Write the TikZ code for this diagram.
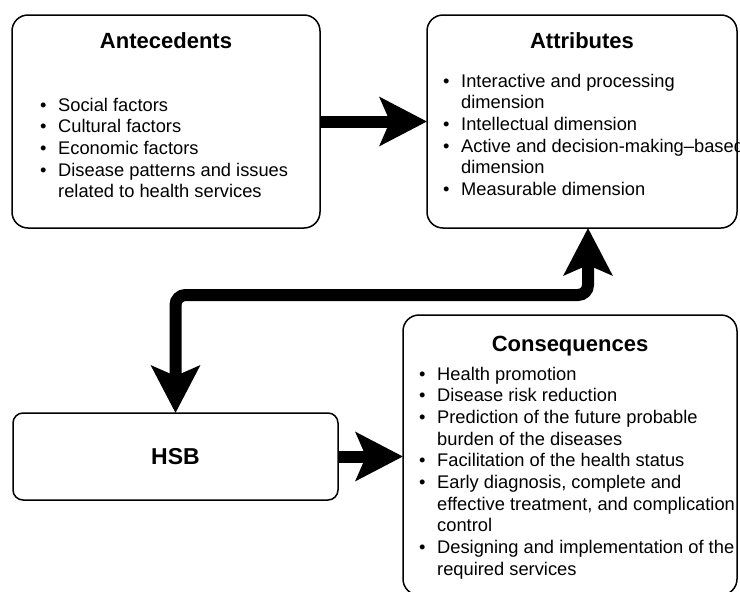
\documentclass[tikz,border=0pt]{standalone}
\usepackage{fontspec}
\setmainfont{Liberation Sans}
\usetikzlibrary{positioning, arrows.meta}

\newcommand{\bitem}[1]{\hbox{\makebox[18pt][l]{•}#1}}
\newcommand{\bcont}[1]{\hbox{\hspace*{18pt}#1}}
\newcommand{\blist}[1]{\vtop{\baselineskip=21.7pt #1}}

\tikzset{bigtip/.tip={Stealth[length=47pt, width=48pt, inset=10pt]}}

\begin{document}
\begin{tikzpicture}[x=1pt, y=-1pt,
    box/.style={draw, line width=1.5pt, rounded corners=16pt, inner sep=0pt, outer sep=0pt},
    title/.style={font=\fontsize{22pt}{26pt}\selectfont\bfseries, anchor=base},
    lst/.style={font=\fontsize{18.3pt}{21.7pt}\selectfont, anchor=base west, inner sep=0pt},
    bigarrow/.style={line width=12pt, -bigtip}]
        \useasboundingbox (0,0) rectangle (740,592);
        \node[box, anchor=north west, minimum width=308pt, minimum height=213pt] (ante) at (12,15) {};
        \node[box, minimum width=310pt, minimum height=213pt, right=107pt of ante] (attr) {};
        \node[box, rounded corners=10pt, minimum width=325pt, minimum height=87pt, font=\fontsize{23pt}{27pt}\selectfont\bfseries, below right=185pt and 1pt of ante.south west] (hsb) {HSB};
        \node[box, minimum width=334pt, minimum height=280pt, right=65pt of hsb, yshift=1.5pt] (cons) {};
        %---------------------------
        \node[title] (antetitle) at ([yshift=-33pt]ante.north) {Antecedents};
        \node[title] (attrtitle) at ([yshift=-33pt]attr.north) {Attributes};
        \node[title] (constitle) at ([yshift=-36pt]cons.north) {Consequences};
        \node[lst] (antelist) at ([xshift=28pt, yshift=-96pt]ante.north west) {\blist{%
            \bitem{Social factors}
            \bitem{Cultural factors}
            \bitem{Economic factors}
            \bitem{Disease patterns and issues}
            \bcont{related to health services}}};
        \node[lst] (attrlist) at ([xshift=16pt, yshift=-72pt]attr.north west) {\blist{%
            \bitem{Interactive and processing}
            \bcont{dimension}
            \bitem{Intellectual dimension}
            \bitem{Active and decision-making–based}
            \bcont{dimension}
            \bitem{Measurable dimension}}};
        \node[lst] (conslist) at ([xshift=16pt, yshift=-65pt]cons.north west) {\blist{%
            \bitem{Health promotion}
            \bitem{Disease risk reduction}
            \bitem{Prediction of the future probable}
            \bcont{burden of the diseases}
            \bitem{Facilitation of the health status}
            \bitem{Early diagnosis, complete and}
            \bcont{effective treatment, and complication}
            \bcont{control}
            \bitem{Designing and implementation of the}
            \bcont{required services}}};
        %--------------------------
        \coordinate[below=67pt of attr.south, xshift=6pt] (turn);
        \draw[bigarrow] (ante) -- (attr);
        \draw[bigarrow] (hsb.east) -- (hsb.east -| cons.west);
        \draw[bigarrow, bigtip-bigtip, rounded corners=10pt] (attr.south -| turn) -- (turn) -| (hsb.north);
\end{tikzpicture}
\end{document}
